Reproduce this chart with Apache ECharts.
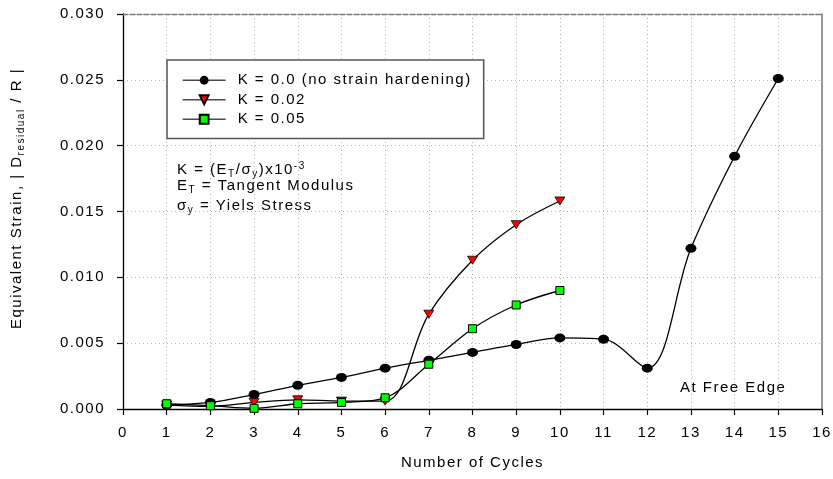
<!DOCTYPE html>
<html>
<head>
<meta charset="utf-8">
<script src="https://cdn.jsdelivr.net/npm/echarts@6/dist/echarts.min.js"></script>
<style>
  html, body { margin: 0; padding: 0; background: #ffffff; }
  #chart { width: 833px; height: 479px; }
</style>
</head>
<body>
<div id="chart"></div>
<script>
// Number of loading cycles
const cyclesK000 = [1, 2, 3, 4, 5, 6, 7, 8, 9, 10, 11, 12, 13, 14, 15];
const cyclesK002 = [1, 2, 3, 4, 5, 6, 7, 8, 9, 10];
const cyclesK005 = [1, 2, 3, 4, 5, 6, 7, 8, 9, 10];

// Equivalent residual strain |D_residual / R|
const strainK000 = [0.0003, 0.0005, 0.0011, 0.0018, 0.0024, 0.0031, 0.0037, 0.0043, 0.0049, 0.0054, 0.0053, 0.0031, 0.0122, 0.0192, 0.0251];
const strainK002 = [0.0003, 0.0002, 0.0005, 0.0007, 0.0006, 0.0006, 0.0072, 0.0113, 0.0140, 0.0158];
const strainK005 = [0.0004, 0.00025, 0.00005, 0.0004, 0.0005, 0.00085, 0.0034, 0.0061, 0.0079, 0.0090];

const seriesNames = ['K = 0.0 (no strain hardening)', 'K = 0.02', 'K = 0.05'];

// Axis ranges
const xMin = 0, xMax = 16, xStep = 1;
const yMin = 0, yMax = 0.030, yStep = 0.005;

// Spaced-out lettering for every label on the canvas
const LETTER_SPACING = '1.5px';
(function () {
  const proto = CanvasRenderingContext2D.prototype;
  const fill = proto.fillText;
  const stroke = proto.strokeText;
  proto.fillText = function () { this.letterSpacing = LETTER_SPACING; return fill.apply(this, arguments); };
  proto.strokeText = function () { this.letterSpacing = LETTER_SPACING; return stroke.apply(this, arguments); };
  const measureCtx = document.createElement('canvas').getContext('2d');
  measureCtx.letterSpacing = LETTER_SPACING;
  if (echarts.setPlatformAPI) {
    echarts.setPlatformAPI({
      measureText: function (text, font) {
        measureCtx.font = font || '12px sans-serif';
        return measureCtx.measureText(text);
      }
    });
  }
})();

const FONT = '"Liberation Sans", Arial, sans-serif';
const pairs = (xs, ys) => xs.map((x, i) => [x, ys[i]]);

const downTriangle = 'path://M0,0 L10,0 L5,8 Z';

const chart = echarts.init(document.getElementById('chart'), null, { renderer: 'canvas' });

const gridDots = { color: '#b4b4b4', width: 1, type: [1, 3] };

chart.setOption({
  animation: false,
  backgroundColor: '#ffffff',
  textStyle: { fontFamily: FONT, color: '#000' },
  grid: { left: 123, right: 11, top: 14, bottom: 70, containLabel: false, outerBoundsMode: 'none' },
  legend: {
    orient: 'vertical',
    left: 167,
    top: 60,
    padding: [12, 12, 11, 15],
    itemWidth: 43,
    itemHeight: 11,
    itemGap: 3,
    backgroundColor: '#ffffff',
    borderColor: '#555555',
    borderWidth: 1.5,
    borderRadius: 0,
    lineStyle: { color: '#4a4a4a', width: 1.3 },
    textStyle: { fontSize: 15, color: '#000', fontFamily: FONT, padding: [0, 0, 0, 7] },
    data: seriesNames
  },
  xAxis: [{
    type: 'value',
    min: xMin, max: xMax, interval: xStep,
    name: 'Number of Cycles',
    nameLocation: 'middle',
    nameGap: 46,
    nameTextStyle: { fontSize: 15, color: '#000', fontFamily: FONT },
    axisLine: { onZero: false, lineStyle: { color: '#000', width: 1.3 } },
    axisTick: { inside: false, length: 6, lineStyle: { color: '#000', width: 1.2 } },
    axisLabel: { fontSize: 15, color: '#000', margin: 16, fontFamily: FONT },
    splitLine: { show: true, lineStyle: gridDots }
  }, {
    type: 'value', position: 'top',
    min: xMin, max: xMax, interval: xStep,
    axisLine: { onZero: false, lineStyle: { color: '#7a7a7a', width: 1.3, type: [5, 2] } },
    axisTick: { show: false }, axisLabel: { show: false }, splitLine: { show: false }
  }],
  yAxis: [{
    type: 'value',
    min: yMin, max: yMax, interval: yStep,
    name: 'Equivalent Strain, | D{sub|residual} / R |',
    nameLocation: 'middle',
    nameGap: 96,
    nameRotate: 90,
    nameTextStyle: {
      fontSize: 15, color: '#000', fontFamily: FONT,
      padding: [0, 0, 0, 26],
      rich: { sub: { fontSize: 10, fontFamily: FONT, padding: [8, 0, 0, 0] } }
    },
    axisLine: { onZero: false, lineStyle: { color: '#000', width: 1.3 } },
    axisTick: { inside: false, length: 6, lineStyle: { color: '#000', width: 1.2 } },
    axisLabel: { fontSize: 15, color: '#000', margin: 18, fontFamily: FONT, formatter: v => v.toFixed(3) },
    splitLine: { show: true, lineStyle: gridDots }
  }, {
    type: 'value', position: 'right',
    min: yMin, max: yMax, interval: yStep,
    axisLine: { show: true, onZero: false, lineStyle: { color: '#7a7a7a', width: 1.5 } },
    axisTick: { show: false }, axisLabel: { show: false }, splitLine: { show: false }
  }],
  graphic: [
    {
      type: 'text', left: 177, top: 160,
      style: {
        text: 'K = (E{sub|T}/σ{sub|y})x10{sup|-3}',
        font: '15px ' + FONT, fill: '#000',
        rich: {
          sub: { fontSize: 10, fontFamily: FONT, padding: [8, 0, 0, 0] },
          sup: { fontSize: 10, fontFamily: FONT, padding: [0, 0, 8, 0] }
        }
      }
    },
    {
      type: 'text', left: 177, top: 178,
      style: {
        text: 'E{sub|T} = Tangent Modulus',
        font: '15px ' + FONT, fill: '#000',
        rich: { sub: { fontSize: 10, fontFamily: FONT, padding: [8, 0, 0, 0] } }
      }
    },
    {
      type: 'text', left: 177, top: 198,
      style: {
        text: 'σ{sub|y} = Yiels Stress',
        font: '15px ' + FONT, fill: '#000',
        rich: { sub: { fontSize: 10, fontFamily: FONT, padding: [8, 0, 0, 0] } }
      }
    },
    {
      type: 'text', left: 680, top: 380,
      style: { text: 'At Free Edge', font: '15px ' + FONT, fill: '#000' }
    }
  ],
  series: [
    {
      name: seriesNames[0], type: 'line', data: pairs(cyclesK000, strainK000),
      smooth: 0.35, symbol: 'circle', symbolSize: [11, 9], showAllSymbol: true, clip: false,
      lineStyle: { color: '#000', width: 1.3 },
      itemStyle: { color: '#000', borderColor: '#000', borderWidth: 0 },
      z: 3
    },
    {
      name: seriesNames[1], type: 'line', data: pairs(cyclesK002, strainK002),
      smooth: 0.35, symbol: downTriangle, symbolSize: [10, 8], showAllSymbol: true, clip: false,
      lineStyle: { color: '#000', width: 1.3 },
      itemStyle: { color: '#ff0000', borderColor: '#000', borderWidth: 0.8 },
      z: 4
    },
    {
      name: seriesNames[2], type: 'line', data: pairs(cyclesK005, strainK005),
      smooth: 0.35, symbol: 'rect', symbolSize: 8, showAllSymbol: true, clip: false,
      lineStyle: { color: '#000', width: 1.3 },
      itemStyle: { color: '#00ff00', borderColor: '#000', borderWidth: 1 },
      z: 5
    }
  ]
});
</script>
</body>
</html>
